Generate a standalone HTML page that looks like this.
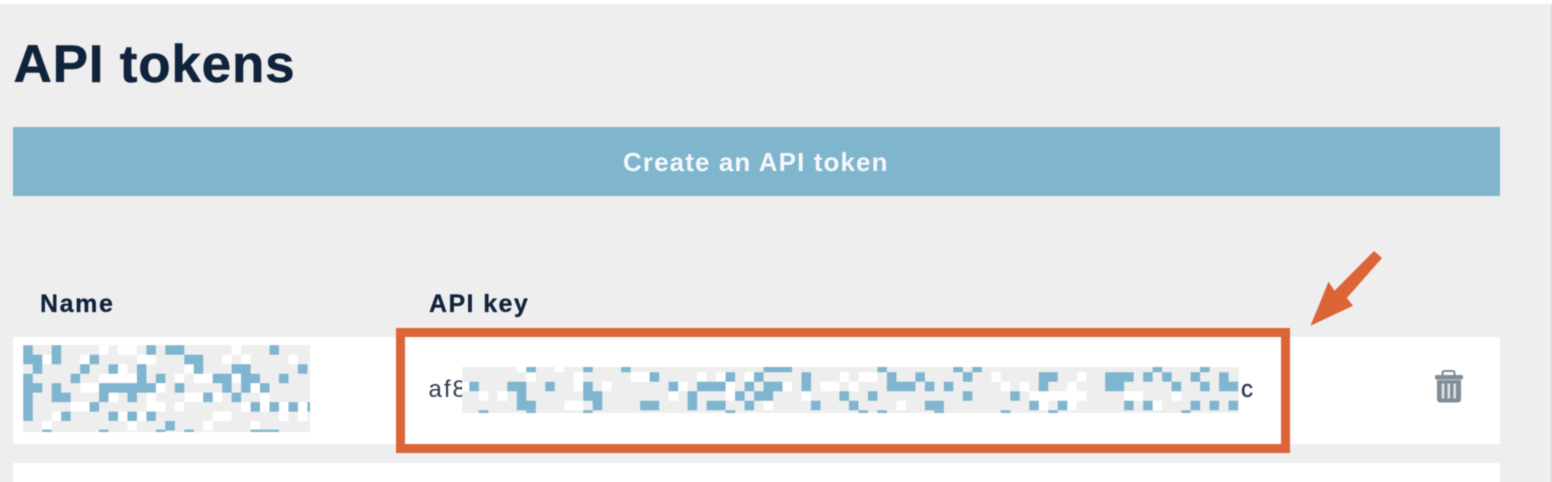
<!DOCTYPE html>
<html>
<head>
<meta charset="utf-8">
<style>
html,body{margin:0;padding:0;background:#fff}
#p{position:relative;width:1552px;height:482px;overflow:hidden;background:#fff;font-family:"Liberation Sans",sans-serif}
#w{position:absolute;left:0;top:0;width:1552px;height:482px;filter:blur(.55px)}
#b{position:absolute;left:-6px;top:4px;width:1557px;height:490px;background:#eee}
#e{position:absolute;left:1551px;top:4px;width:1px;height:490px;background:#c9c9c9}
.a{position:absolute;white-space:nowrap;line-height:1}
#r1{position:absolute;left:12.5px;top:336.5px;width:1487.5px;height:107.5px;background:#fff}
#r2{position:absolute;left:12.5px;top:463px;width:1487.5px;height:30px;background:#fff}
#btn{position:absolute;left:12.5px;top:127px;width:1487.5px;height:68.5px;background:#7fb5cd}
#box{position:absolute;left:396px;top:327.5px;width:876px;height:107px;border:9px solid #dc6436}
svg{position:absolute;left:0;top:0}
</style>
</head>
<body>
<div id="p"><div id="w">
<div id="b"></div><div id="e"></div>
<div class="a" style="left:13.5px;top:38px;font-size:53px;font-weight:bold;letter-spacing:.8px;color:#10233c;-webkit-text-stroke:.5px #10233c">API tokens</div>
<div id="btn"></div>
<div class="a" style="left:623px;top:149px;font-size:26px;font-weight:bold;letter-spacing:1.1px;color:#f4f8fa">Create an API token</div>
<div class="a" style="left:40px;top:292px;font-size:25px;font-weight:bold;letter-spacing:1.6px;color:#10233c;-webkit-text-stroke:.3px #10233c">Name</div>
<div class="a" style="left:429px;top:292px;font-size:25px;font-weight:bold;letter-spacing:1.4px;color:#10233c;-webkit-text-stroke:.3px #10233c">API key</div>
<div id="r1"></div><div id="r2"></div>
<div class="a" style="left:428.5px;top:378px;font-size:24px;letter-spacing:2px;color:#2c3a50">af8</div>
<div class="a" style="left:1241px;top:378px;font-size:24px;color:#2c3a50;-webkit-text-stroke:.4px #2c3a50">c</div>
<svg width="1552" height="482" viewBox="0 0 1552 482">
  <svg x="23" y="345" width="287" height="87" viewBox="0 0 287 87">
    <rect width="287" height="87" fill="#eee"/>
    <g transform="translate(.3,.3) scale(9.47)" fill="none" stroke-width="1">
      <path stroke="#fff" d="M8 .5h1M10 .5h2M22 .5h1M2 1.5h1M6 1.5h1M12 1.5h2M21 1.5h1M23 1.5h1M28 1.5h1M10 2.5h1M17 2.5h1M8 3.5h4M16 3.5h1M18 3.5h2M22 3.5h1M6 4.5h2M14 4.5h1M24 4.5h1M9 5.5h1M13 5.5h1M17 5.5h2M20 5.5h1M25 5.5h1M5 6.5h2M13 6.5h2M16 6.5h1M23 6.5h1M25 6.5h1M27 6.5h1M29 6.5h1M3 7.5h1M10 7.5h1M12 7.5h1M20 7.5h2M27 7.5h1M29 7.5h1M2 8.5h1M11 8.5h1M19 8.5h1M24 8.5h1"/>
      <path stroke="#7fb5cf" d="M0 .5h1M3 .5h1M13 .5h1M15 .5h2M26 .5h1M0 1.5h2M3 1.5h1M7 1.5h1M17 1.5h2M1 2.5h1M6 2.5h1M9 2.5h1M12 2.5h1M18 2.5h1M22 2.5h2M29 2.5h1M0 3.5h1M5 3.5h1M12 3.5h1M14 3.5h1M20 3.5h2M23 3.5h2M27 3.5h1M0 4.5h2M3 4.5h1M8 4.5h6M16 4.5h1M21 4.5h1M23 4.5h1M25 4.5h1M0 5.5h1M3 5.5h2M8 5.5h1M11 5.5h1M19 5.5h1M22 5.5h1M0 6.5h1M7 6.5h1M24 6.5h1M26 6.5h1M28 6.5h1M30 6.5h1M0 7.5h1M4 7.5h1M9 7.5h1M11 7.5h1M13 7.5h1M15 8.5h1"/>
      <path stroke="#7fb5cf" stroke-width=".3" d="M2 9.05h1M8 9.05h1M14 9.05h1M17 9.05h1M24 9.05h3"/>
    </g>
  </svg>
  <svg x="462" y="367" width="777" height="46" viewBox="0 0 777 46">
    <rect width="777" height="46" fill="#eee"/>
    <g transform="translate(45.33,-4.2) scale(9.49)" fill="none" stroke-width="1">
      <path stroke="#fff" d="M-5 2.5h1M-3 3.5h1M-1 3.5h1M1 .5h1M5 .5h1M2 1.5h1M7 1.5h1M13 1.5h2M20 1.5h1M22 1.5h1M25 1.5h1M35 1.5h1M37 1.5h2M51 1.5h1M7 2.5h1M10 2.5h1M18 2.5h1M23 2.5h1M29 2.5h1M33 2.5h2M36 2.5h1M52 2.5h1M17 3.5h1M23 3.5h1M31 3.5h1M55 3.5h6M65 3.5h2M70 3.5h1M6 4.5h2M27 4.5h1M41 4.5h1M56 4.5h1M59 4.5h1M68 4.5h1M60 1.5h1M59 2.5h1M54 2.5h1"/>
      <path stroke="#7fb5cf" d="M2 .5h1M8 .5h1M12 .5h1M27 .5h3M39 .5h1M47 .5h1M49 .5h1M68 .5h1M73 .5h1M15 1.5h1M23 1.5h1M26 1.5h1M31 1.5h1M40 1.5h1M43 1.5h1M48 1.5h1M56 1.5h2M63 1.5h3M67 1.5h1M69 1.5h1M72 1.5h1M75 1.5h1M-4 2.5h1M0 2.5h2M4 2.5h1M8 2.5h1M17 2.5h1M20 2.5h3M25 2.5h1M27 2.5h2M31 2.5h1M40 2.5h3M44 2.5h1M46 2.5h1M56 2.5h1M63 2.5h2M70 2.5h1M73 2.5h1M75 2.5h2M1 3.5h1M8 3.5h2M19 3.5h1M24 3.5h1M26 3.5h2M35 3.5h1M38 3.5h1M48 3.5h1M53 3.5h1M1 4.5h2M9 4.5h1M14 4.5h2M19 4.5h1M21 4.5h2M25 4.5h1M32 4.5h1M36 4.5h1M44 4.5h2M55 4.5h1M58 4.5h1M65 4.5h1M67 4.5h1M72 4.5h1M74 4.5h1M76 4.5h1"/>
      <path stroke="#7fb5cf" d="M-3 5.5h1M2 5.5h1M8 5.5h1M23 5.5h1M37 5.5h1M39 5.5h1M45 5.5h1M52 5.5h1M57 5.5h1M71 5.5h1"/>
    </g>
  </svg>
  <polygon fill="#dc6436" points="1310.5,325.7 1328.5,281.7 1334.5,290.7 1374,251 1382,258 1346.8,298 1353,305.7"/>
  <g fill="#808c96">
    <path d="M1441.5 375.5v-2.500q0-3 3-3h8q3 0 3 3v2.500h-2v-2q0-1.500-1.500-1.500h-7q-1.500 0-1.500 1.500v2z"/>
    <rect x="1435" y="375" width="28" height="4.500" rx="1.500"/>
    <path d="M1437 380h24v19q0 3.500-3.500 3.500h-17q-3.500 0-3.500-3.500z"/>
    <g fill="#dfe2e4">
      <rect x="1441.700" y="383.500" width="2.600" height="15"/>
      <rect x="1447.500" y="383.500" width="2.600" height="15"/>
      <rect x="1453.400" y="383.500" width="2.600" height="15"/>
    </g>
  </g>
</svg>
<div id="box"></div>
</div></div>
</body>
</html>
